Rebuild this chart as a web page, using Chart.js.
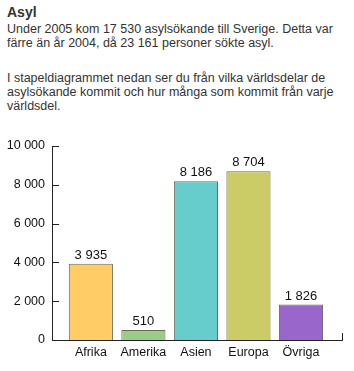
<!DOCTYPE html>
<html>
<head>
<meta charset="utf-8">
<script src="https://cdn.jsdelivr.net/npm/chart.js@4"></script>
<style>
	body { margin: 0; background: #fff; font-family: "Liberation Sans", Arial, sans-serif; color: #222; }
	.wrap { position: relative; width: 354px; height: 371px; }
	h1 { position: absolute; left: 7px; top: 4px; margin: 0; font-size: 14px; font-weight: bold; color: #333; }
	.txt { position: absolute; left: 7px; margin: 0; font-size: 12.5px; line-height: 14px; color: #333; width: 345px; }
	#c1 { position: absolute; left: 0; top: 130px; }
</style>
</head>
<body>
<div class="wrap">
	<h1>Asyl</h1>
	<p class="txt" style="top:22px">Under 2005 kom 17 530 asylsökande till Sverige. Detta var färre än år 2004, då 23 161 personer sökte asyl.</p>
	<p class="txt" style="top:71px">I stapeldiagrammet nedan ser du från vilka världsdelar de asylsökande kommit och hur många som kommit från varje världsdel.</p>
	<canvas id="c1" width="354" height="241"></canvas>
</div>
<script>
/* ── 데이터 ── */
const categories = ['Afrika', 'Amerika', 'Asien', 'Europa', 'Övriga'];
const values     = [3935, 510, 8186, 8704, 1826];
const colors     = ['#FFCC66', '#99CC88', '#66CCCC', '#CCCC66', '#9966CC'];
const yTicks     = [0, 2000, 4000, 6000, 8000, 10000];

function fmt(n) {
	return String(n).replace(/\B(?=(\d{3})+(?!\d))/g, ' ');
}

/* ── 축선 / 눈금 / 값 라벨 (선은 fillRect로) ── */
const decor = {
	id: 'decor',
	afterDraw(chart) {
		const ctx = chart.ctx, a = chart.chartArea, ys = chart.scales.y;
		const L = Math.round(a.left), R = Math.round(a.right), B = Math.round(a.bottom), T = Math.round(a.top);
		ctx.save();
		ctx.fillStyle = '#222';
		// y 축선과 안쪽 눈금
		ctx.fillRect(L, T, 1, B - T + 1);
		yTicks.forEach(function(v) {
			const py = Math.round(ys.getPixelForValue(v));
			ctx.fillRect(L, py, 7, 1);
		});
		// x 축선과 끝 눈금
		ctx.fillRect(L, B, R - L, 1);
		ctx.fillRect(R - 1, B - 7, 1, 7);

		// 값 라벨
		ctx.fillStyle = '#111';
		ctx.font = '13px "Liberation Sans", Arial, sans-serif';
		ctx.textAlign = 'center';
		ctx.textBaseline = 'bottom';
		chart.getDatasetMeta(0).data.forEach(function(bar, i) {
			ctx.fillText(fmt(values[i]), bar.x, bar.y - 2);
		});
		ctx.restore();
	}
};

new Chart(document.getElementById('c1'), {
	type: 'bar',
	data: {
		datasets: [{
			data: values.map(function(v, i) { return { x: i, y: v }; }),
			backgroundColor: colors,
			borderColor: '#6b6b55',
			borderWidth: 1,
			barPercentage: 0.84,
			categoryPercentage: 1
		}]
	},
	options: {
		responsive: false,
		animation: false,
		layout: { padding: { left: 0, right: 11, top: 16, bottom: 0 } },
		plugins: { legend: { display: false }, tooltip: { enabled: false } },
		scales: {
			x: {
				type: 'linear',
				offset: false,
				min: -0.74,
				max: 4.8,
				afterBuildTicks: function(s) { s.ticks = categories.map(function(c, i) { return { value: i }; }); },
				afterFit: function(s) { s.height = 31; },
				ticks: {
					autoSkip: false,
					maxRotation: 0,
					padding: -3,
					color: '#111',
					font: { family: '"Liberation Sans", Arial, sans-serif', size: 12.5 },
					callback: function(v) { return categories[v]; }
				},
				grid: { display: false },
				border: { display: false }
			},
			y: {
				min: 0,
				max: 10000,
				afterBuildTicks: function(s) { s.ticks = yTicks.map(function(v) { return { value: v }; }); },
				afterFit: function(s) { s.width = 52; },
				ticks: {
					padding: -1,
					color: '#111',
					font: { family: '"Liberation Sans", Arial, sans-serif', size: 12.5 },
					callback: function(v) { return fmt(v); }
				},
				grid: { display: false },
				border: { display: false }
			}
		}
	},
	plugins: [decor]
});
</script>
</body>
</html>
